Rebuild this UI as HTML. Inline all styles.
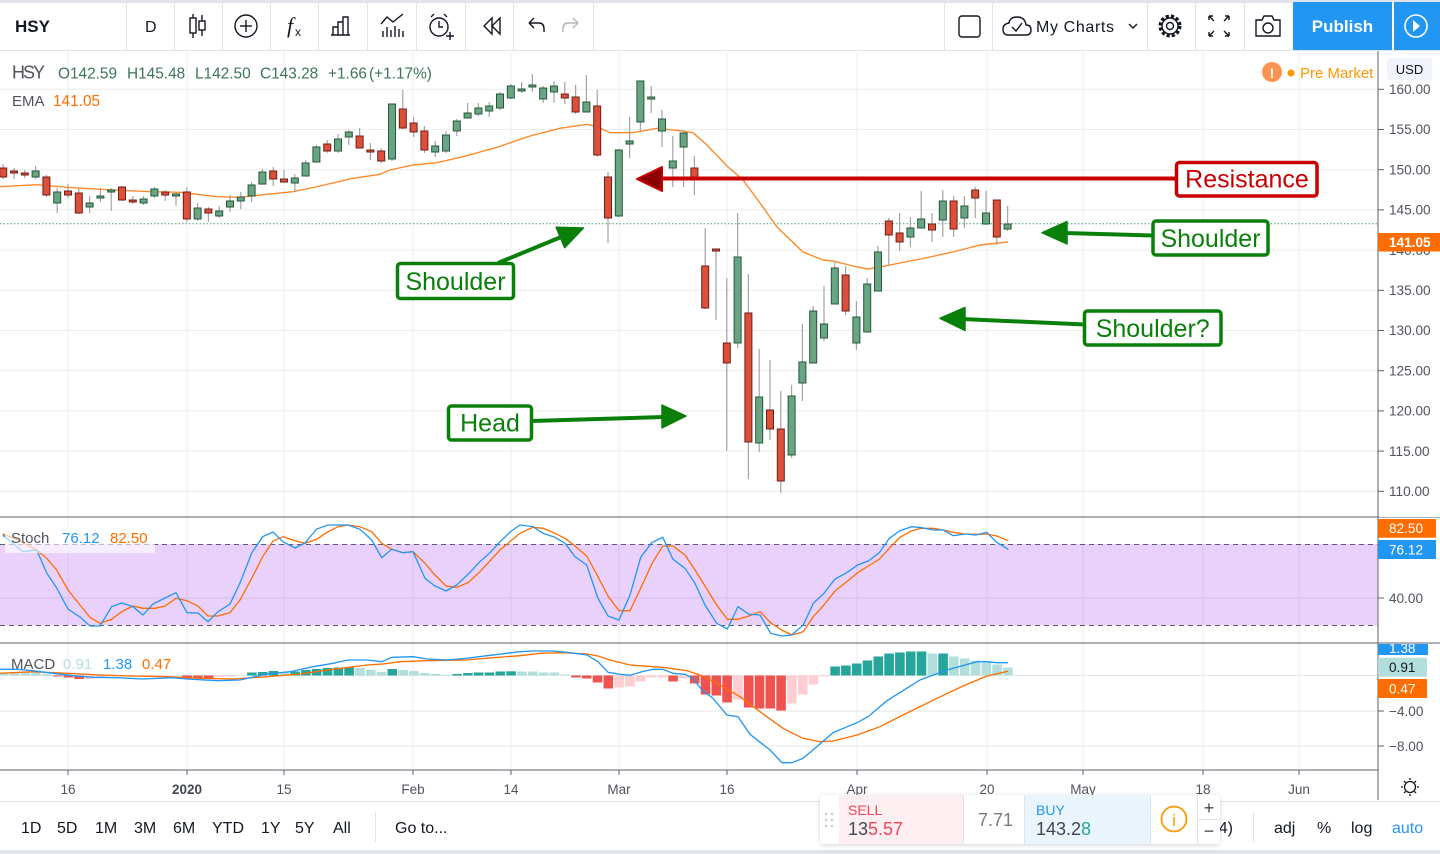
<!DOCTYPE html>
<html><head><meta charset="utf-8"><style>
html,body{margin:0;padding:0;background:#fff;}
svg{display:block;font-family:"Liberation Sans",Arial,sans-serif;}
</style></head><body>
<svg width="1440" height="854" viewBox="0 0 1440 854" xmlns="http://www.w3.org/2000/svg">
<defs>
<filter id="sh" x="-5%" y="-20%" width="110%" height="150%"><feDropShadow dx="0" dy="1" stdDeviation="2" flood-color="#000" flood-opacity="0.18"/></filter>
<clipPath id="mclip"><rect x="1378" y="644" width="62" height="126"/></clipPath>
</defs>
<rect x="0" y="0" width="1440" height="854" fill="#fff"/>
<!-- TOP TOOLBAR -->
<rect x="0" y="0" width="1440" height="3" fill="#e0e3eb"/>
<line x1="0" y1="50.5" x2="1440" y2="50.5" stroke="#e0e3eb"/>
<g stroke="#e0e3eb" stroke-width="1">
<line x1="126.5" y1="3" x2="126.5" y2="50"/><line x1="174.5" y1="3" x2="174.5" y2="50"/><line x1="222.5" y1="3" x2="222.5" y2="50"/><line x1="270.5" y1="3" x2="270.5" y2="50"/><line x1="318.5" y1="3" x2="318.5" y2="50"/><line x1="367.5" y1="3" x2="367.5" y2="50"/><line x1="416.5" y1="3" x2="416.5" y2="50"/><line x1="465.5" y1="3" x2="465.5" y2="50"/><line x1="513.5" y1="3" x2="513.5" y2="50"/><line x1="593.5" y1="3" x2="593.5" y2="50"/>
<line x1="944.5" y1="3" x2="944.5" y2="50"/><line x1="992.5" y1="3" x2="992.5" y2="50"/><line x1="1147.5" y1="3" x2="1147.5" y2="50"/><line x1="1195.5" y1="3" x2="1195.5" y2="50"/><line x1="1244.5" y1="3" x2="1244.5" y2="50"/>
</g>
<text x="15" y="32" font-size="17" font-weight="bold" fill="#131722">HSY</text>
<text x="145" y="32" font-size="16" fill="#131722">D</text>
<g fill="none" stroke="#131722" stroke-width="1.4">
<line x1="193" y1="14" x2="193" y2="38"/><rect x="190" y="18" width="6" height="15" fill="#fff"/>
<line x1="202" y1="15" x2="202" y2="36"/><rect x="199" y="21" width="6" height="9" fill="#fff"/>
<circle cx="246" cy="26" r="11"/><line x1="240" y1="26" x2="252" y2="26"/><line x1="246" y1="20" x2="246" y2="32"/>
<path d="M333 35 V27 H338 V35 M338 35 V22 H343 V35 M343 35 V17 H348 V35 M331 35 H350"/>
<path d="M381 24 L387 17 L393 22 L403 14"/>
<path d="M383 37 V31 M387 37 V27 M391 37 V30 M395 37 V26 M399 37 V29 M403 37 V31"/>
<circle cx="439" cy="27" r="9"/><path d="M439 21 V27 H443 M431 17 L434 14 M447 17 L444 14"/><path d="M446 36 H454 M450 32 V40"/>
<path d="M492 18 L484 26 L492 34 Z M500 18 L492 26 L500 34 Z"/>
<path d="M529 23 L534 18 M529 23 L534 28 M529 23 H539 Q544 23 544 29 V32"/>
</g>
<path d="M578 23 L573 18 M578 23 L573 28 M578 23 H568 Q563 23 563 29 V32" fill="none" stroke="#b2b5be" stroke-width="1.4"/>
<text x="287" y="33" font-size="22" font-style="italic" font-family="Liberation Serif,serif" fill="#131722">f</text>
<text x="295" y="36" font-size="12" fill="#131722">x</text>
<g fill="none" stroke="#131722" stroke-width="1.4">
<rect x="959" y="16" width="21" height="21" rx="3"/>
<path d="M1008 35 H1026 Q1031 35 1031 30 Q1031 25 1026 25 Q1025 17 1017 17 Q1010 17 1009 23 Q1003 24 1003 29 Q1003 35 1008 35 Z"/>
<path d="M1012 27 L1016 31 L1022 23"/>
<path d="M1129 24 L1133 28 L1137 24"/>
<circle cx="1170" cy="26" r="3.5"/><circle cx="1170" cy="26" r="8"/>
<circle cx="1170" cy="26" r="10" stroke-width="3" stroke-dasharray="3.2 2.1"/>
<path d="M1209 16 H1213 M1209 16 V20 M1209 16 L1214 21 M1229 16 H1225 M1229 16 V20 M1229 16 L1224 21 M1209 36 H1213 M1209 36 V32 M1209 36 L1214 31 M1229 36 H1225 M1229 36 V32 M1229 36 L1224 31"/>
<path d="M1256 20 H1262 L1264 16 H1272 L1274 20 H1280 V36 H1256 Z"/><circle cx="1268" cy="28" r="5"/>
</g>
<text x="1036" y="32" font-size="16" fill="#131722" textLength="78">My Charts</text>
<rect x="1293" y="2" width="99" height="48" fill="#2196f3"/>
<text x="1342.5" y="32" font-size="17" font-weight="bold" fill="#fff" text-anchor="middle">Publish</text>
<rect x="1394" y="2" width="46" height="48" fill="#2196f3"/>
<circle cx="1416" cy="26" r="11" fill="none" stroke="#fff" stroke-width="1.6"/>
<path d="M1413 20 L1420 26 L1413 32 Z" fill="#fff"/>

<!-- GRID -->
<g stroke="#ececec" stroke-width="1">
<line x1="68" y1="51" x2="68" y2="770"/><line x1="187" y1="51" x2="187" y2="770"/><line x1="284" y1="51" x2="284" y2="770"/><line x1="413" y1="51" x2="413" y2="770"/><line x1="511" y1="51" x2="511" y2="770"/><line x1="619" y1="51" x2="619" y2="770"/><line x1="727" y1="51" x2="727" y2="770"/><line x1="857" y1="51" x2="857" y2="770"/><line x1="987" y1="51" x2="987" y2="770"/><line x1="1083" y1="51" x2="1083" y2="770"/><line x1="1203" y1="51" x2="1203" y2="770"/><line x1="1299" y1="51" x2="1299" y2="770"/>
<line x1="0" y1="89.3" x2="1378" y2="89.3"/><line x1="0" y1="129.5" x2="1378" y2="129.5"/><line x1="0" y1="169.7" x2="1378" y2="169.7"/><line x1="0" y1="209.9" x2="1378" y2="209.9"/><line x1="0" y1="250.1" x2="1378" y2="250.1"/><line x1="0" y1="290.3" x2="1378" y2="290.3"/><line x1="0" y1="330.5" x2="1378" y2="330.5"/><line x1="0" y1="370.7" x2="1378" y2="370.7"/><line x1="0" y1="410.9" x2="1378" y2="410.9"/><line x1="0" y1="451.1" x2="1378" y2="451.1"/><line x1="0" y1="491.3" x2="1378" y2="491.3"/>
</g>

<!-- STOCH BAND -->
<rect x="0" y="544" width="1378" height="81" fill="#e9d1fc"/>
<line x1="0" y1="598" x2="1378" y2="598" stroke="#d4bde8"/>
<g stroke="#d8c2ec"><line x1="68" y1="544" x2="68" y2="625"/><line x1="187" y1="544" x2="187" y2="625"/><line x1="284" y1="544" x2="284" y2="625"/><line x1="413" y1="544" x2="413" y2="625"/><line x1="511" y1="544" x2="511" y2="625"/><line x1="619" y1="544" x2="619" y2="625"/><line x1="727" y1="544" x2="727" y2="625"/><line x1="857" y1="544" x2="857" y2="625"/><line x1="987" y1="544" x2="987" y2="625"/><line x1="1083" y1="544" x2="1083" y2="625"/><line x1="1203" y1="544" x2="1203" y2="625"/><line x1="1299" y1="544" x2="1299" y2="625"/></g>
<line x1="0" y1="544.5" x2="1378" y2="544.5" stroke="#5d5a6b" stroke-dasharray="5 4"/>
<line x1="0" y1="625.5" x2="1378" y2="625.5" stroke="#5d5a6b" stroke-dasharray="5 4"/>
<!-- MACD grid -->
<g stroke="#e6e6e6"><line x1="0" y1="675.5" x2="1378" y2="675.5"/><line x1="0" y1="711" x2="1378" y2="711"/><line x1="0" y1="746" x2="1378" y2="746"/></g>

<!-- CURRENT PRICE DOTTED -->
<line x1="0" y1="223.7" x2="1378" y2="223.7" stroke="#3f9f6f" stroke-width="1" stroke-dasharray="1.5 2"/>

<!-- EMA -->
<polyline fill="none" stroke="#ff8a2a" stroke-width="1.4" points="0,186.7 37,184.7 67,187.3 100,189.3 150,191.7 180,192.3 217,196.7 240,197.3 267,194.3 293,191.7 320,186 353,178.3 380,174.3 390,170 413,165 437,162.7 463,156.7 497,147.3 530,136 560,128.3 587,124.3 597,126.7 610,132.7 633,132.7 657,128.3 680,130.7 693,132.7 707,145 727,166 743,180 760,203 777,227 803,252 823,260 833,261 857,267 868,269 880,267 930,257 957,251 980,245 1008,242"/>

<!-- CANDLE WICKS -->
<g stroke="#a3a3a3" stroke-width="1.2">
<line x1="3.2" y1="164" x2="3.2" y2="179"/><line x1="14" y1="168" x2="14" y2="179"/><line x1="24.8" y1="170" x2="24.8" y2="178"/><line x1="35.6" y1="166" x2="35.6" y2="179"/><line x1="46.4" y1="175" x2="46.4" y2="197"/><line x1="57.2" y1="188" x2="57.2" y2="213"/><line x1="68" y1="184" x2="68" y2="198"/><line x1="78.8" y1="188" x2="78.8" y2="214"/><line x1="89.6" y1="196" x2="89.6" y2="213"/><line x1="100.4" y1="188" x2="100.4" y2="202"/>
<line x1="111.2" y1="188" x2="111.2" y2="211"/><line x1="122" y1="186" x2="122" y2="201"/><line x1="132.8" y1="196" x2="132.8" y2="204"/><line x1="143.6" y1="196" x2="143.6" y2="205"/><line x1="154.4" y1="187" x2="154.4" y2="198"/><line x1="165.2" y1="190" x2="165.2" y2="201"/><line x1="176" y1="193" x2="176" y2="206"/><line x1="186.8" y1="187" x2="186.8" y2="222"/><line x1="197.6" y1="203" x2="197.6" y2="221"/><line x1="208.4" y1="207" x2="208.4" y2="222"/>
<line x1="219.2" y1="206" x2="219.2" y2="218"/><line x1="230" y1="195" x2="230" y2="212"/><line x1="240.8" y1="192" x2="240.8" y2="209"/><line x1="251.6" y1="182" x2="251.6" y2="202"/><line x1="262.4" y1="169" x2="262.4" y2="185"/><line x1="273.2" y1="167" x2="273.2" y2="186"/><line x1="284" y1="170" x2="284" y2="183"/><line x1="294.8" y1="174" x2="294.8" y2="192"/><line x1="305.6" y1="160" x2="305.6" y2="176"/><line x1="316.4" y1="145" x2="316.4" y2="162"/>
<line x1="327.2" y1="140" x2="327.2" y2="153"/><line x1="338" y1="134" x2="338" y2="153"/><line x1="348.8" y1="130" x2="348.8" y2="145"/><line x1="359.6" y1="128" x2="359.6" y2="148"/><line x1="370.4" y1="143" x2="370.4" y2="160"/><line x1="381.2" y1="148" x2="381.2" y2="163"/><line x1="392" y1="104" x2="392" y2="161"/><line x1="402.8" y1="90" x2="402.8" y2="129"/><line x1="413.6" y1="117" x2="413.6" y2="137"/><line x1="424.4" y1="126" x2="424.4" y2="153"/>
<line x1="435.2" y1="141" x2="435.2" y2="157"/><line x1="446" y1="131" x2="446" y2="153"/><line x1="456.8" y1="119" x2="456.8" y2="136"/><line x1="467.6" y1="103" x2="467.6" y2="118"/><line x1="478.4" y1="103" x2="478.4" y2="116"/><line x1="489.2" y1="102" x2="489.2" y2="117"/><line x1="500" y1="92" x2="500" y2="110"/><line x1="510.8" y1="84" x2="510.8" y2="99"/><line x1="521.6" y1="82" x2="521.6" y2="93"/><line x1="532.4" y1="74" x2="532.4" y2="92"/>
<line x1="543.2" y1="86" x2="543.2" y2="103"/><line x1="554" y1="81" x2="554" y2="103"/><line x1="564.8" y1="82" x2="564.8" y2="104"/><line x1="575.6" y1="85" x2="575.6" y2="114"/><line x1="586.4" y1="75" x2="586.4" y2="112"/><line x1="597.2" y1="90" x2="597.2" y2="157"/><line x1="608" y1="172" x2="608" y2="243"/><line x1="618.8" y1="149" x2="618.8" y2="217"/><line x1="629.6" y1="117" x2="629.6" y2="158"/><line x1="640.4" y1="81" x2="640.4" y2="131"/>
<line x1="651.2" y1="86" x2="651.2" y2="113"/><line x1="662" y1="110" x2="662" y2="147"/><line x1="672.8" y1="136" x2="672.8" y2="187"/><line x1="683.6" y1="130" x2="683.6" y2="187"/><line x1="694.4" y1="156" x2="694.4" y2="195"/><line x1="705.2" y1="228" x2="705.2" y2="309"/><line x1="716" y1="249" x2="716" y2="320"/><line x1="726.8" y1="278" x2="726.8" y2="451"/><line x1="737.6" y1="213" x2="737.6" y2="348"/><line x1="748.4" y1="274" x2="748.4" y2="479"/>
<line x1="759.2" y1="349" x2="759.2" y2="452"/><line x1="770" y1="360" x2="770" y2="440"/><line x1="780.8" y1="391" x2="780.8" y2="493"/><line x1="791.6" y1="385" x2="791.6" y2="458"/><line x1="802.4" y1="324" x2="802.4" y2="401"/><line x1="813.2" y1="306" x2="813.2" y2="363"/><line x1="824" y1="286" x2="824" y2="341"/><line x1="834.8" y1="261" x2="834.8" y2="304"/><line x1="845.6" y1="266" x2="845.6" y2="315"/><line x1="856.4" y1="301" x2="856.4" y2="350"/>
<line x1="867.2" y1="278" x2="867.2" y2="332"/><line x1="878" y1="246" x2="878" y2="291"/><line x1="888.8" y1="218" x2="888.8" y2="266"/><line x1="899.6" y1="213" x2="899.6" y2="251"/><line x1="910.4" y1="217" x2="910.4" y2="247"/><line x1="921.2" y1="191" x2="921.2" y2="228"/><line x1="932" y1="213" x2="932" y2="242"/><line x1="942.8" y1="190" x2="942.8" y2="237"/><line x1="953.6" y1="196" x2="953.6" y2="237"/><line x1="964.4" y1="196" x2="964.4" y2="228"/>
<line x1="975.2" y1="187" x2="975.2" y2="218"/><line x1="986" y1="191" x2="986" y2="225"/><line x1="996.8" y1="200" x2="996.8" y2="245"/><line x1="1007.6" y1="206" x2="1007.6" y2="231"/>
</g>
<!-- GREEN BODIES -->
<g fill="#6aa583" stroke="#24573b" stroke-width="1">
<rect x="32.1" y="171" width="7" height="6"/><rect x="53.7" y="192" width="7" height="11"/><rect x="86.1" y="203" width="7" height="4"/><rect x="96.9" y="196" width="7" height="2"/><rect x="107.7" y="190" width="7" height="2"/><rect x="140.1" y="199" width="7" height="4"/><rect x="150.9" y="189" width="7" height="7"/><rect x="172.5" y="194" width="7" height="2"/><rect x="194.1" y="208" width="7" height="11"/><rect x="215.7" y="211" width="7" height="5"/><rect x="226.5" y="201" width="7" height="6"/><rect x="237.3" y="197" width="7" height="4"/><rect x="248.1" y="185" width="7" height="11"/><rect x="258.9" y="172" width="7" height="12"/><rect x="291.3" y="178" width="7" height="5"/><rect x="302.1" y="163" width="7" height="13"/><rect x="312.9" y="147" width="7" height="15"/><rect x="334.5" y="139" width="7" height="12"/><rect x="345.3" y="132" width="7" height="5"/><rect x="388.5" y="104" width="7" height="55"/>
<rect x="431.7" y="146" width="7" height="6"/><rect x="442.5" y="135" width="7" height="16"/><rect x="453.3" y="121" width="7" height="10"/><rect x="464.1" y="113" width="7" height="5"/><rect x="474.9" y="108" width="7" height="6"/><rect x="485.7" y="106" width="7" height="5"/><rect x="496.5" y="94" width="7" height="14"/><rect x="507.3" y="86" width="7" height="12"/><rect x="518.1" y="89" width="7" height="2"/><rect x="528.9" y="85" width="7" height="2"/><rect x="539.7" y="88" width="7" height="11"/><rect x="550.5" y="86" width="7" height="6"/><rect x="582.9" y="102" width="7" height="10"/><rect x="615.3" y="150" width="7" height="66"/><rect x="626.1" y="141" width="7" height="3"/><rect x="636.9" y="81" width="7" height="41"/><rect x="647.7" y="97" width="7" height="2"/><rect x="658.5" y="119" width="7" height="12"/><rect x="669.3" y="161" width="7" height="7"/><rect x="680.1" y="133" width="7" height="14"/>
<rect x="734.1" y="257" width="7" height="86"/><rect x="755.7" y="397" width="7" height="46"/><rect x="788.1" y="396" width="7" height="59"/><rect x="798.9" y="362" width="7" height="21"/><rect x="809.7" y="311" width="7" height="52"/><rect x="820.5" y="324" width="7" height="14"/><rect x="831.3" y="268" width="7" height="36"/><rect x="852.9" y="317" width="7" height="26"/><rect x="863.7" y="284" width="7" height="48"/><rect x="874.5" y="252" width="7" height="39"/><rect x="906.9" y="228" width="7" height="9"/><rect x="917.7" y="219" width="7" height="9"/><rect x="939.3" y="201" width="7" height="19"/><rect x="960.9" y="206" width="7" height="12"/><rect x="982.5" y="213" width="7" height="11"/><rect x="1004.1" y="224" width="7" height="5"/>
</g>
<!-- RED BODIES -->
<g fill="#dc4f3a" stroke="#6d1f14" stroke-width="1">
<rect x="-0.3" y="168" width="7" height="9"/><rect x="10.5" y="171" width="7" height="2"/><rect x="21.3" y="173" width="7" height="2"/><rect x="42.9" y="177" width="7" height="18"/><rect x="64.5" y="191" width="7" height="4"/><rect x="75.3" y="193" width="7" height="20"/><rect x="118.5" y="187" width="7" height="13"/><rect x="129.3" y="200" width="7" height="2"/><rect x="161.7" y="192" width="7" height="3"/><rect x="183.3" y="192" width="7" height="27"/><rect x="204.9" y="209" width="7" height="4"/><rect x="269.7" y="171" width="7" height="8"/><rect x="280.5" y="179" width="7" height="3"/><rect x="323.7" y="144" width="7" height="7"/><rect x="356.1" y="136" width="7" height="12"/><rect x="366.9" y="150" width="7" height="2"/><rect x="377.7" y="151" width="7" height="10"/>
<rect x="399.3" y="109" width="7" height="19"/><rect x="410.1" y="123" width="7" height="9"/><rect x="420.9" y="131" width="7" height="19"/><rect x="561.3" y="94" width="7" height="4"/><rect x="572.1" y="97" width="7" height="15"/><rect x="593.7" y="106" width="7" height="49"/><rect x="604.5" y="177" width="7" height="41"/><rect x="690.9" y="168" width="7" height="10"/><rect x="701.7" y="266" width="7" height="42"/><rect x="712.5" y="249" width="7" height="2"/><rect x="723.3" y="343" width="7" height="20"/><rect x="744.9" y="313" width="7" height="129"/><rect x="766.5" y="410" width="7" height="19"/><rect x="777.3" y="429" width="7" height="52"/><rect x="842.1" y="275" width="7" height="36"/><rect x="885.3" y="221" width="7" height="14"/><rect x="896.1" y="233" width="7" height="9"/><rect x="928.5" y="224" width="7" height="6"/><rect x="950.1" y="201" width="7" height="28"/><rect x="971.7" y="190" width="7" height="8"/><rect x="993.3" y="200" width="7" height="37"/>
</g>

<!-- ANNOTATIONS -->
<line x1="658" y1="178.5" x2="1177" y2="178.5" stroke="#c80000" stroke-width="4"/>
<polygon points="637,179 662,167 662,191" fill="#8b0000" stroke="#c80000" stroke-width="2" stroke-linejoin="round"/>
<rect x="1176.5" y="162.5" width="140.5" height="33.5" rx="3" fill="#fff" stroke="#c80000" stroke-width="3.5"/>
<text x="1247" y="187.5" font-size="25" fill="#c80000" text-anchor="middle">Resistance</text>

<g stroke="#0a800a" stroke-width="4" fill="none">
<line x1="1064" y1="233" x2="1154" y2="235.5"/>
<line x1="962" y1="319" x2="1085" y2="324.5"/>
<line x1="498" y1="263" x2="566" y2="235"/>
<line x1="531" y1="421" x2="664" y2="417"/>
</g>
<g fill="#0a800a" stroke="#0a800a" stroke-width="1.5" stroke-linejoin="round">
<polygon points="1042,232.7 1067,221.5 1067,244"/>
<polygon points="940,318.3 965,307.5 965,330.5"/>
<polygon points="583.5,228 556.2,227.3 564.6,247.7"/>
<polygon points="686,416 662,405 662,428"/>
</g>
<g fill="#fff" stroke="#0a800a" stroke-width="3.5">
<rect x="1153" y="221" width="115" height="34" rx="3"/>
<rect x="1084.5" y="311" width="136.5" height="34" rx="3"/>
<rect x="397.5" y="263.5" width="116" height="35" rx="3"/>
<rect x="448.5" y="406" width="83" height="34" rx="3"/>
</g>
<g fill="#0a800a" font-size="25" text-anchor="middle">
<text x="1210.5" y="247">Shoulder</text>
<text x="1152.7" y="337">Shoulder?</text>
<text x="455.5" y="290">Shoulder</text>
<text x="490" y="431.5">Head</text>
</g>

<!-- LEGENDS -->
<text x="12" y="78.5" font-size="18" fill="#50535e" textLength="33">HSY</text>
<g font-size="15.4" fill="#3b7657">
<text x="58" y="78.5">O142.59</text><text x="127" y="78.5">H145.48</text><text x="195" y="78.5">L142.50</text><text x="260" y="78.5">C143.28</text><text x="328" y="78.5">+1.66</text><text x="369" y="78.5">(+1.17%)</text>
</g>
<text x="12" y="106" font-size="15" fill="#50535e">EMA</text>
<text x="53" y="106" font-size="15.4" fill="#ff6d00">141.05</text>
<circle cx="1272" cy="72" r="10" fill="#fb9450"/>
<text x="1272" y="78" font-size="14" font-weight="bold" fill="#fff" text-anchor="middle">!</text>
<circle cx="1291" cy="73" r="3.5" fill="#ff9800"/>
<text x="1300" y="78" font-size="15" fill="#ff9800">Pre Market</text>

<!-- STOCH LINES -->
<polyline fill="none" stroke="#ff6d00" stroke-width="1.3" points="2.7,534 16.7,539.3 36.7,550 46.7,558.3 56.7,570 68,590 80,605 90,617.3 100,623.3 111.7,619.3 121.7,611.7 133,606 143,608.3 155,608.3 165,606 176,598.3 187,600.7 198,606 208,616 218,616 230,612.7 240,600 251.7,578.3 262.7,556.7 273,541 283,536.7 295,540.7 305,543.3 316.7,539.3 328,531.7 338,526.7 348,525 360,526.7 371.7,531.7 381.7,543.3 391.7,549.3 403,552.7 413,551.7 425,563.3 435,575 446,586 456.7,587.3 468,582.7 480,571.7 500,550 520,533.3 533,527.3 543,528.3 555,533.3 565,538.3 575,546 586.7,556 598,576.7 608,596 619,610.7 630,610.7 640.7,588.3 651.7,564 662.7,546 673,546 685,555 695,570 705,586 716.7,605 727.3,619.3 738,619.3 749,616 760,611.7 770.7,622.7 781.7,630 791.7,635 803.3,631.7 813.3,616.7 824,605 835,591 846.7,581.7 857.7,572.7 868.3,566 879.3,559.3 889.3,548.3 900,537.3 911.7,530.7 921.7,528.3 933.3,528.3 943.3,530 953.3,532.3 965,534 976,534.3 986.7,534 996.7,536 1008.3,540.7"/>
<polyline fill="none" stroke="#2196f3" stroke-width="1.3" points="2.7,535 23,551.7 36.7,550 46.7,573 56.7,588 68,609 80,617 90,626 100,626 111.7,606.7 121.7,603 133,606.7 143,615 153,604 165,598 176,592.7 187,612.7 198,613 208,621.7 218,611.7 230,604 240,583 251.7,553 262.7,536.7 273,532 283,541.7 295,548 305,543 316.7,529 328,525 348,525 360,529.3 371.7,540 381.7,557.7 391.7,549.3 403,552.7 413,551.7 425,578.3 435,586 446,591 456.7,585 468,574.3 480,561.7 490,552.7 500,541.7 511.7,530.7 520,525 533,526.7 543,533.3 555,537.3 565,543.3 575,556.7 586.7,565 598,598.3 608,616 619,620 630,595 640.7,557.3 651.7,542.7 662.7,537.3 673,559.3 685,568.3 695,583.3 705,605 716.7,623.3 727.3,629 738,606.7 749,614.3 760,615 770.7,633.3 781.7,636 791.7,635 803.3,625 813.3,603.3 824,593.3 835,579 846.7,572.7 857.7,565 868.3,561 879.3,552.7 889.3,538.3 900,530.7 911.7,526.7 921.7,527.7 933.3,530 943.3,530 953.3,535.7 965,534 976,535 986.7,532.3 996.7,542.3 1008.3,549.3"/>
<rect x="5" y="527" width="150" height="26" fill="#fff" fill-opacity="0.6"/>
<text x="11" y="543" font-size="15" fill="#50535e">Stoch</text>
<text x="62" y="543" font-size="15" fill="#2196f3">76.12</text>
<text x="110" y="543" font-size="15" fill="#ff6d00">82.50</text>

<!-- MACD HISTOGRAM -->
<g fill="#b2dfdb">
<rect x="-1.3" y="672.5" width="9.6" height="3"/><rect x="9.5" y="672.5" width="9.6" height="3"/><rect x="20.3" y="672.5" width="9.6" height="3"/><rect x="31.1" y="672.5" width="9.6" height="3"/><rect x="41.9" y="674" width="9.6" height="1.5"/>
<rect x="279.5" y="672.5" width="9.6" height="3"/><rect x="355.1" y="668" width="9.6" height="7.5"/><rect x="365.9" y="670" width="9.6" height="5.5"/><rect x="376.7" y="672" width="9.6" height="3.5"/><rect x="398.3" y="670" width="9.6" height="5.5"/><rect x="409.1" y="671" width="9.6" height="4.5"/><rect x="419.9" y="673" width="9.6" height="2.5"/><rect x="430.7" y="674" width="9.6" height="1.5"/><rect x="441.5" y="674.8" width="9.6" height="0.7"/>
<rect x="517.1" y="671.5" width="9.6" height="4"/><rect x="527.9" y="671.5" width="9.6" height="4"/><rect x="538.7" y="672.5" width="9.6" height="3"/><rect x="549.5" y="672.5" width="9.6" height="3"/><rect x="560.3" y="674.5" width="9.6" height="1"/>
<rect x="927.5" y="653.5" width="9.6" height="22"/><rect x="949.1" y="656.5" width="9.6" height="19"/><rect x="959.9" y="658.5" width="9.6" height="17"/><rect x="970.7" y="660.5" width="9.6" height="15"/><rect x="981.5" y="662.5" width="9.6" height="13"/><rect x="992.3" y="664.5" width="9.6" height="11"/><rect x="1003.1" y="667.5" width="9.6" height="8"/>
</g>
<g fill="#26a69a">
<rect x="247.1" y="672.5" width="9.6" height="3"/><rect x="257.9" y="672" width="9.6" height="3.5"/><rect x="268.7" y="671" width="9.6" height="4.5"/><rect x="290.3" y="671.5" width="9.6" height="4"/><rect x="301.1" y="670" width="9.6" height="5.5"/><rect x="311.9" y="669" width="9.6" height="6.5"/><rect x="322.7" y="668" width="9.6" height="7.5"/><rect x="333.5" y="667.5" width="9.6" height="8"/><rect x="344.3" y="667" width="9.6" height="8.5"/><rect x="387.5" y="669" width="9.6" height="6.5"/>
<rect x="452.3" y="674" width="9.6" height="1.5"/><rect x="463.1" y="673" width="9.6" height="2.5"/><rect x="473.9" y="672.5" width="9.6" height="3"/><rect x="484.7" y="672.5" width="9.6" height="3"/><rect x="495.5" y="671.5" width="9.6" height="4"/><rect x="506.3" y="671.3" width="9.6" height="4.2"/>
<rect x="830.3" y="666.5" width="9.6" height="9"/><rect x="841.1" y="665.5" width="9.6" height="10"/><rect x="851.9" y="663.5" width="9.6" height="12"/><rect x="862.7" y="660.5" width="9.6" height="15"/><rect x="873.5" y="656.5" width="9.6" height="19"/><rect x="884.3" y="653.5" width="9.6" height="22"/><rect x="895.1" y="652.5" width="9.6" height="23"/><rect x="905.9" y="651.5" width="9.6" height="24"/><rect x="916.7" y="651.5" width="9.6" height="24"/><rect x="938.3" y="653.5" width="9.6" height="22"/>
</g>
<g fill="#ef5350">
<rect x="52.7" y="675.5" width="9.6" height="1"/><rect x="63.5" y="675.5" width="9.6" height="2"/><rect x="74.3" y="675.5" width="9.6" height="3.5"/><rect x="182.3" y="675.5" width="9.6" height="3"/><rect x="193.1" y="675.5" width="9.6" height="3"/><rect x="203.9" y="675.5" width="9.6" height="3"/>
<rect x="571.1" y="675.5" width="9.6" height="2"/><rect x="581.9" y="675.5" width="9.6" height="3"/><rect x="592.7" y="675.5" width="9.6" height="7"/><rect x="603.5" y="675.5" width="9.6" height="13"/><rect x="668.3" y="675.5" width="9.6" height="6"/><rect x="689.9" y="675.5" width="9.6" height="8"/><rect x="700.7" y="675.5" width="9.6" height="19"/><rect x="711.5" y="675.5" width="9.6" height="20"/><rect x="722.3" y="675.5" width="9.6" height="27"/><rect x="743.9" y="675.5" width="9.6" height="32"/><rect x="754.7" y="675.5" width="9.6" height="33"/><rect x="765.5" y="675.5" width="9.6" height="33"/><rect x="776.3" y="675.5" width="9.6" height="35"/>
</g>
<g fill="#ffcdd2">
<rect x="85.1" y="675.5" width="9.6" height="3.5"/><rect x="95.9" y="675.5" width="9.6" height="1.5"/><rect x="106.7" y="675.5" width="9.6" height="0.8"/><rect x="214.7" y="675.5" width="9.6" height="1.5"/><rect x="225.5" y="675.5" width="9.6" height="1"/>
<rect x="614.3" y="675.5" width="9.6" height="12"/><rect x="625.1" y="675.5" width="9.6" height="11"/><rect x="635.9" y="675.5" width="9.6" height="6"/><rect x="646.7" y="675.5" width="9.6" height="2"/><rect x="657.5" y="675.5" width="9.6" height="2"/><rect x="679.1" y="675.5" width="9.6" height="3"/><rect x="733.1" y="675.5" width="9.6" height="24"/><rect x="787.1" y="675.5" width="9.6" height="28"/><rect x="797.9" y="675.5" width="9.6" height="19"/><rect x="808.7" y="675.5" width="9.6" height="9"/><rect x="819.5" y="675.5" width="9.6" height="1"/>
</g>
<!-- MACD LINES -->
<polyline fill="none" stroke="#ff6d00" stroke-width="1.3" points="0,673.3 33,671.7 67,673.3 100,675 133,676 167,676.7 200,678.3 233,679 267,676.7 300,674 333,669.3 367,665 383,664 400,661.7 427,660.7 467,660 493,657.7 520,655.7 540,653.3 563,652.7 587,654 598,656 610,660 630,665 663,667.3 687,670.7 702,675.7 720,685 740,696.7 760,711.7 783,728.3 803,738.3 820,741.7 833,741 857,735 880,726.7 903,715 937,698.3 963,686 987,676 1008,671.3"/>
<polyline fill="none" stroke="#2196f3" stroke-width="1.3" points="0,669.3 16.7,669.3 33,670.7 53,673.3 73,675.7 93,677.3 117,677.7 143,679 173,677.7 187,679 217,680.7 240,680 267,674 290,671.7 313,666.7 333,663.3 348,660 367,660 382,661.7 392,657.3 413,656.7 427,659 447,660 467,658.3 487,655.7 507,653.3 520,651.7 533,651 553,651 570,652.7 587,655 598,661.7 608,672.3 620,674.3 630,675.3 642,671.7 653,669.3 663,669.3 673,673.3 685,674.3 693,678.3 702,690 713,698.3 727,715 738,716.7 750,734.3 770,750 782,762.7 792,762.7 803,758.3 813,750 833,732.7 857,722.7 868,716.7 887,700.7 920,680 947,670 977,661.7 987,661.7 997,662.7 1008,662.7"/>
<text x="11" y="669" font-size="15" fill="#50535e">MACD</text>
<text x="63" y="669" font-size="15" fill="#b2dfdb">0.91</text>
<text x="103" y="669" font-size="15" fill="#2196f3">1.38</text>
<text x="142" y="669" font-size="15" fill="#ff6d00">0.47</text>

<!-- PANE BORDERS / AXES -->
<line x1="0" y1="517" x2="1440" y2="517" stroke="#5d606b" stroke-width="1"/>
<line x1="0" y1="643" x2="1440" y2="643" stroke="#5d606b" stroke-width="1"/>
<line x1="0" y1="770" x2="1378" y2="770" stroke="#5d606b" stroke-width="1"/>
<line x1="1378" y1="51" x2="1378" y2="800" stroke="#5d606b" stroke-width="1"/>
<rect x="1379" y="51" width="61" height="466" fill="#fff"/>
<rect x="1387" y="58" width="45" height="22" rx="3" fill="#f0f3fa"/>
<text x="1409.5" y="74" font-size="13" fill="#131722" text-anchor="middle">USD</text>
<g stroke="#5d606b"><line x1="1378" y1="89.3" x2="1384" y2="89.3"/><line x1="1378" y1="129.5" x2="1384" y2="129.5"/><line x1="1378" y1="169.7" x2="1384" y2="169.7"/><line x1="1378" y1="209.9" x2="1384" y2="209.9"/><line x1="1378" y1="290.3" x2="1384" y2="290.3"/><line x1="1378" y1="330.5" x2="1384" y2="330.5"/><line x1="1378" y1="370.7" x2="1384" y2="370.7"/><line x1="1378" y1="410.9" x2="1384" y2="410.9"/><line x1="1378" y1="451.1" x2="1384" y2="451.1"/><line x1="1378" y1="491.3" x2="1384" y2="491.3"/><line x1="1378" y1="598" x2="1384" y2="598"/><line x1="1378" y1="711" x2="1384" y2="711"/><line x1="1378" y1="746" x2="1384" y2="746"/></g>
<g font-size="13.6" fill="#50535e">
<text x="1389" y="94">160.00</text><text x="1389" y="134.2">155.00</text><text x="1389" y="174.4">150.00</text><text x="1389" y="214.6">145.00</text><text x="1389" y="254.8">140.00</text><text x="1389" y="295">135.00</text><text x="1389" y="335.2">130.00</text><text x="1389" y="375.4">125.00</text><text x="1389" y="415.6">120.00</text><text x="1389" y="455.8">115.00</text><text x="1389" y="496">110.00</text>
<text x="1389" y="603">40.00</text><text x="1389" y="716">−4.00</text><text x="1389" y="751">−8.00</text>
</g>
<rect x="1378" y="233" width="62" height="18.5" fill="#ff6d00"/>
<text x="1389" y="247" font-size="13.6" font-weight="bold" fill="#fff">141.05</text>
<rect x="1378" y="519" width="58" height="18.7" fill="#ff6d00"/>
<text x="1389" y="533" font-size="13.6" fill="#fff">82.50</text>
<rect x="1378" y="540" width="58" height="19" fill="#2196f3"/>
<text x="1389" y="554.5" font-size="13.6" fill="#fff">76.12</text>
<g clip-path="url(#mclip)"><rect x="1378" y="640" width="50" height="15" fill="#2196f3"/><text x="1389" y="653" font-size="13.6" fill="#fff">1.38</text></g>
<rect x="1378" y="657.7" width="49" height="19" fill="#b2dfdb"/>
<text x="1389" y="672" font-size="13.6" fill="#131722">0.91</text>
<rect x="1378" y="679" width="49" height="19" fill="#ff6d00"/>
<text x="1389" y="693.5" font-size="13.6" fill="#fff">0.47</text>

<!-- TIME AXIS -->
<g stroke="#5d606b"><line x1="68" y1="770" x2="68" y2="775"/><line x1="187" y1="770" x2="187" y2="775"/><line x1="284" y1="770" x2="284" y2="775"/><line x1="413" y1="770" x2="413" y2="775"/><line x1="511" y1="770" x2="511" y2="775"/><line x1="619" y1="770" x2="619" y2="775"/><line x1="727" y1="770" x2="727" y2="775"/><line x1="857" y1="770" x2="857" y2="775"/><line x1="987" y1="770" x2="987" y2="775"/><line x1="1083" y1="770" x2="1083" y2="775"/><line x1="1203" y1="770" x2="1203" y2="775"/><line x1="1299" y1="770" x2="1299" y2="775"/></g>
<g font-size="13.5" fill="#50535e" text-anchor="middle">
<text x="68" y="794">16</text><text x="187" y="794" font-weight="bold" fill="#434651">2020</text><text x="284" y="794">15</text><text x="413" y="794">Feb</text><text x="511" y="794">14</text><text x="619" y="794">Mar</text><text x="727" y="794">16</text><text x="857" y="794">Apr</text><text x="987" y="794">20</text><text x="1083" y="794">May</text><text x="1203" y="794">18</text><text x="1299" y="794">Jun</text>
</g>
<g stroke="#131722" stroke-width="1.3" fill="none"><circle cx="1410" cy="787" r="5.5"/><path d="M1410 778 V780 M1410 794 V796 M1401 787 H1403 M1417 787 H1419 M1404 781 L1405.5 782.5 M1416 781 L1414.5 782.5 M1404 793 L1405.5 791.5 M1416 793 L1414.5 791.5"/></g>

<!-- BOTTOM BAR -->
<line x1="0" y1="801.5" x2="1440" y2="801.5" stroke="#e0e3eb"/>
<rect x="0" y="850" width="1440" height="4" fill="#e0e3eb"/>
<g font-size="16" fill="#131722">
<text x="21" y="833">1D</text><text x="57" y="833">5D</text><text x="95" y="833">1M</text><text x="134" y="833">3M</text><text x="173" y="833">6M</text><text x="212" y="833">YTD</text><text x="261" y="833">1Y</text><text x="295" y="833">5Y</text><text x="333" y="833">All</text><text x="395" y="833">Go to...</text>
<text x="1233" y="833" text-anchor="end">(UTC-4)</text>
<text x="1274" y="833">adj</text><text x="1317" y="833">%</text><text x="1351" y="833">log</text>
</g>
<text x="1392" y="833" font-size="16" fill="#2196f3">auto</text>
<line x1="375.5" y1="812" x2="375.5" y2="842" stroke="#e0e3eb"/>
<line x1="1253.5" y1="812" x2="1253.5" y2="842" stroke="#e0e3eb"/>

<!-- BUY/SELL WIDGET -->
<rect x="820" y="795" width="400" height="49" rx="4" fill="#fff" filter="url(#sh)"/>
<rect x="839" y="795" width="124" height="49" fill="#fdeff1"/>
<rect x="1025" y="795" width="125" height="49" fill="#eaf4fd"/>
<g fill="#c8cbd3"><circle cx="826" cy="814" r="1.3"/><circle cx="832" cy="814" r="1.3"/><circle cx="826" cy="820" r="1.3"/><circle cx="832" cy="820" r="1.3"/><circle cx="826" cy="826" r="1.3"/><circle cx="832" cy="826" r="1.3"/></g>
<g stroke="#e0e3eb"><line x1="963.5" y1="795" x2="963.5" y2="844"/><line x1="1024.5" y1="795" x2="1024.5" y2="844"/><line x1="1150.5" y1="795" x2="1150.5" y2="844"/><line x1="1197.5" y1="795" x2="1197.5" y2="844"/><line x1="1198" y1="819.5" x2="1220" y2="819.5"/></g>
<text x="848" y="815" font-size="14" fill="#f0455a">SELL</text>
<text x="848" y="835" font-size="18" fill="#434651">13<tspan fill="#f0455a">5.57</tspan></text>
<text x="978" y="826" font-size="18" fill="#787b86">7.71</text>
<text x="1036" y="815" font-size="14" fill="#2196f3">BUY</text>
<text x="1036" y="835" font-size="18" fill="#434651">143.2<tspan fill="#26a69a">8</tspan></text>
<circle cx="1174" cy="819" r="12.5" fill="none" stroke="#ff9800" stroke-width="1.8"/>
<text x="1174" y="826" font-size="17" fill="#ff9800" text-anchor="middle">i</text>
<text x="1209" y="814" font-size="18" fill="#434651" text-anchor="middle">+</text>
<text x="1209" y="837" font-size="18" fill="#434651" text-anchor="middle">−</text>
</svg>
</body></html>
